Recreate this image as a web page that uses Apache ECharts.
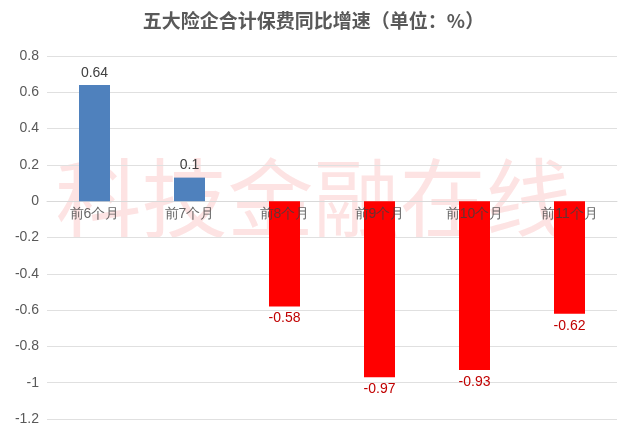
<!DOCTYPE html>
<html><head><meta charset="utf-8">
<script src="https://cdn.jsdelivr.net/npm/echarts@6/dist/echarts.min.js"></script>
<style>html,body{margin:0;padding:0;background:#fff}#c{width:627px;height:435px}</style>
</head><body><div id="c"></div>
<script>
const categories = ['前6个月','前7个月','前8个月','前9个月','前10个月','前11个月'];
const values = [0.64, 0.13, -0.58, -0.97, -0.93, -0.62];
const valueLabels = ['0.64','0.1','-0.58','-0.97','-0.93','-0.62'];
const chart = echarts.init(document.getElementById('c'));
chart.setOption({
  animation:false,
  title:{text:'五大险企合计保费同比增速（单位：%）',left:'center',top:6,
    textStyle:{fontSize:19,fontWeight:'bold',color:'#595959',fontFamily:'Noto Sans CJK SC'}},
  graphic:[{type:'text',left:'center',top:155,z:-1,style:{text:'科技金融在线',fontSize:86,fill:'rgba(250,185,185,0.4)',fontFamily:'Noto Sans CJK SC'}}],
  grid:{left:47,right:10,top:56,bottom:16},
  xAxis:{type:'category',data:categories,
    axisLine:{onZero:true,lineStyle:{color:'#d9d9d9'}},axisTick:{show:false},
    axisLabel:{show:false}},
  yAxis:{type:'value',min:-1.2,max:0.8,interval:0.2,
    axisLabel:{color:'#595959',fontSize:14,formatter:v=>String(Math.round(v*10)/10)},
    splitLine:{show:true,lineStyle:{color:'#e0e0e0'}},axisLine:{show:false},axisTick:{show:false}},
  series:[{type:'bar',barWidth:31,z:2,
    data:values.map((v,i)=>({value:v,itemStyle:{color:v>=0?'#4f81bd':'#ff0000'},
      label:{show:true,position:v>=0?'top':'bottom',formatter:valueLabels[i],
        color:v>=0?'#404040':'#c00000',fontSize:14}}))},
   {type:'scatter',symbolSize:0,z:30,zlevel:3,data:categories.map(()=>0),silent:true,
    labelLayout:{hideOverlap:false},
    label:{show:true,position:'bottom',distance:6,formatter:(p)=>categories[p.dataIndex],color:'#404040',fontSize:14}}]
});
</script></body></html>
